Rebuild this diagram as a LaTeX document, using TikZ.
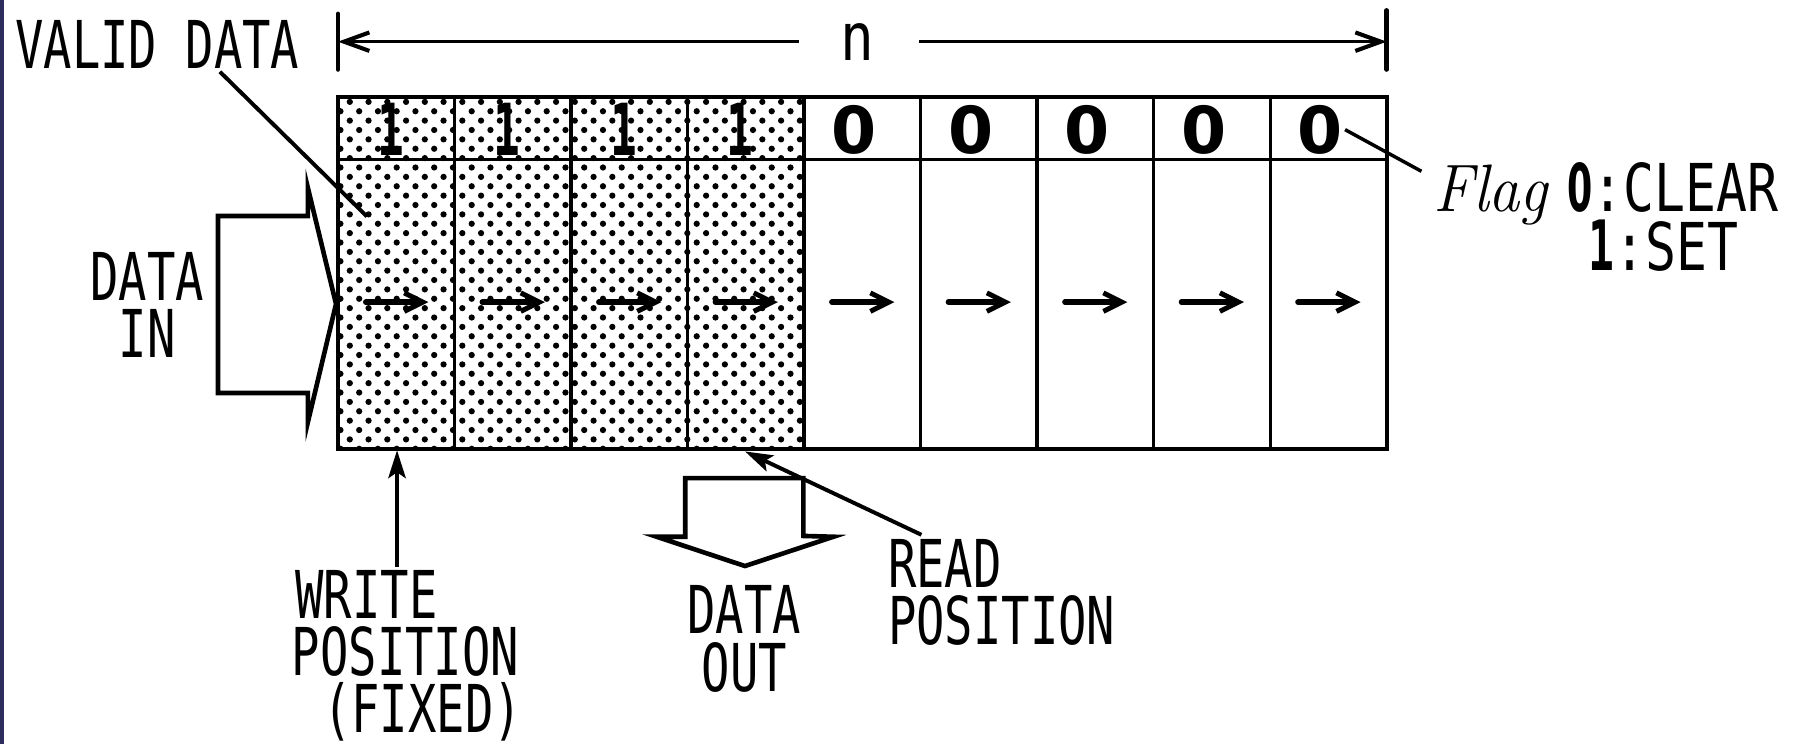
\documentclass[tikz,border=0pt]{standalone}
\usepackage{fontspec}
\usepackage{graphicx}
\usetikzlibrary{arrows.meta}
\newfontfamily\lblfont[FakeStretch=0.715]{DejaVu Sans Mono}
\newfontfamily\legfont[FakeStretch=0.78]{DejaVu Sans Mono}
\newfontfamily\nfont[FakeStretch=0.85]{DejaVu Sans Mono}
\newfontfamily\zerofont{DejaVu Sans}
\newfontfamily\zeronarrow[FakeStretch=0.55]{DejaVu Sans}
\newfontfamily\onefont[FakeStretch=0.62]{DejaVu Sans Mono}
\definecolor{stripcol}{RGB}{47,45,94}
\tikzset{
  lbl/.style={font=\lblfont\fontsize{57}{49.5}\selectfont, inner sep=0pt},
  boxline/.style={line width=3.5pt},
  divline/.style={line width=3pt},
  leader/.style={line width=3.4pt},
  bigarrow/.style={line width=4pt, line join=miter},
  cellarrow/.style={line width=4.8pt, line cap=round, -{Straight Barb[length=16pt,width=16pt,line width=4.3pt]}},
  dimline1/.style={line width=2.4pt, {Straight Barb[length=22pt,width=16pt,line width=3.5pt]}-},
  dimline2/.style={line width=2.4pt, -{Straight Barb[length=22pt,width=16pt,line width=3.5pt]}},
  tick/.style={line width=4pt, line cap=round},
  pointer/.style={line width=3.4pt, -{Stealth[length=24pt,width=15pt,inset=5pt]}},
  flagone/.style={font=\onefont\bfseries\fontsize{62}{62}\selectfont, inner sep=0pt, anchor=base},
  flagzero/.style={font=\zerofont\bfseries\fontsize{56}{56}\selectfont, inner sep=0pt, anchor=base},
}
\begin{document}
\begin{tikzpicture}[x=1pt,y=-1pt]
\useasboundingbox (0,0) rectangle (1568,643);
\fill[white] (0,0) rectangle (1568,643);
\fill[stripcol] (0,0) rectangle (3.6,643);
\def\cw{100.67}
% dotted shading of the valid cells
\begin{scope}
  \clip (292,84) rectangle (694,388);
  \foreach \j in {0,...,38}{
    \pgfmathsetmacro\off{mod(\j,2)*8.1}
    \foreach \i in {0,...,25}{
      \fill (286+\off+16.2*\i, 88+8.1*\j) circle (2.7pt);
    }
  }
\end{scope}
% buffer box
\coordinate (boxNW) at (292,84);
\coordinate (boxSE) at (1198,388);
\draw[boxline] (boxNW) rectangle (boxSE);
\coordinate (flagW) at (292,138);
\coordinate (flagE) at (1198,138);
\draw[divline] (flagW) -- (flagE);
\foreach \k in {1,...,8}{
  \coordinate (dt\k) at (292+\cw*\k,84);
  \coordinate (db\k) at (292+\cw*\k,388);
  \draw[divline] (dt\k) -- (db\k);
}
% shift arrows
\foreach \k in {1,...,9}{
  \coordinate (as\k) at (292+\cw*\k-\cw+24,261);
  \coordinate (ae\k) at (292+\cw*\k-\cw+78,261);
  \draw[cellarrow] (as\k) -- (ae\k);
}
% flags
\foreach \k in {1,...,4}{
  \node[flagone] (f\k) at (292+\cw*\k-\cw/2-5,134) {1};
}
\foreach \k in {5,...,9}{
  \node[flagzero] (f\k) at (292+\cw*\k-\cw/2-7,133) {0};
}
% dimension n
\coordinate (tlT) at (292,12);
\coordinate (tlB) at (292,60);
\coordinate (trT) at (1198,9);
\coordinate (trB) at (1198,60);
\draw[tick] (tlT) -- (tlB);
\draw[tick] (trT) -- (trB);
\node[font=\nfont\fontsize{57}{57}\selectfont, inner sep=0pt, anchor=base] (nlab) at (741,52) {n};
\coordinate (dL) at (292,36);
\coordinate (dLm) at (690,36);
\coordinate (dRm) at (794,36);
\coordinate (dR) at (1198,36);
\draw[dimline1] (dL) -- (dLm);
\draw[dimline2] (dRm) -- (dR);
% valid data
\node[lbl, anchor=base west] (valid) at (13,59) {VALID DATA};
\coordinate (validS) at (190,62);
\coordinate (validE) at (317,187);
\draw[leader] (validS) -- (validE);
% data in arrow
\draw[bigarrow] (188.3,186.6) -- (266,186.6) -- (266,162.4) -- (290.3,262.6) -- (266,364.6) -- (266,339.5) -- (188.3,339.5) -- cycle;
\node[lbl, anchor=base, align=center] (din) at (127,309) {DATA\\IN};
% write position
\coordinate (wTail) at (343,490);
\coordinate (wTip) at (343,389);
\draw[pointer] (wTail) -- (wTip);
\node[lbl, anchor=base west, align=left] (wpos) at (252,633) {\hspace*{3pt}WRITE\\POSITION\\\hspace*{27pt}(FIXED)};
% data out arrow
\draw[bigarrow] (592,413) -- (694,413) -- (694,463) -- (720,463.7) -- (643.6,489) -- (567.3,463.7) -- (592,463.7) -- cycle;
\node[lbl, anchor=base, align=center] (dout) at (643,597) {DATA\\OUT};
% read position
\coordinate (rTail) at (796,462);
\coordinate (rTip) at (643.6,390);
\draw[pointer] (rTail) -- (rTip);
\node[lbl, anchor=base west, align=left] (rpos) at (767,557) {READ\\POSITION};
% flag legend
\coordinate (fgS) at (1162,112);
\coordinate (fgE) at (1228,148);
\draw[leader, line width=3pt] (fgS) -- (fgE);
\node[inner sep=0pt, anchor=base west, font=\itshape\fontsize{58}{58}\selectfont] (flagtxt) at (1238,183) {\scalebox{0.93}[1]{Flag}};
\node[inner sep=0pt, anchor=base west, align=left, font=\fontsize{57}{51}\selectfont] (legend) at (1354,234) {{\zeronarrow\bfseries 0}{\legfont :CLEAR}\\\hspace*{18pt}{\onefont\bfseries\fontsize{60}{51}\selectfont 1}{\legfont :SET}};
\end{tikzpicture}
\end{document}
